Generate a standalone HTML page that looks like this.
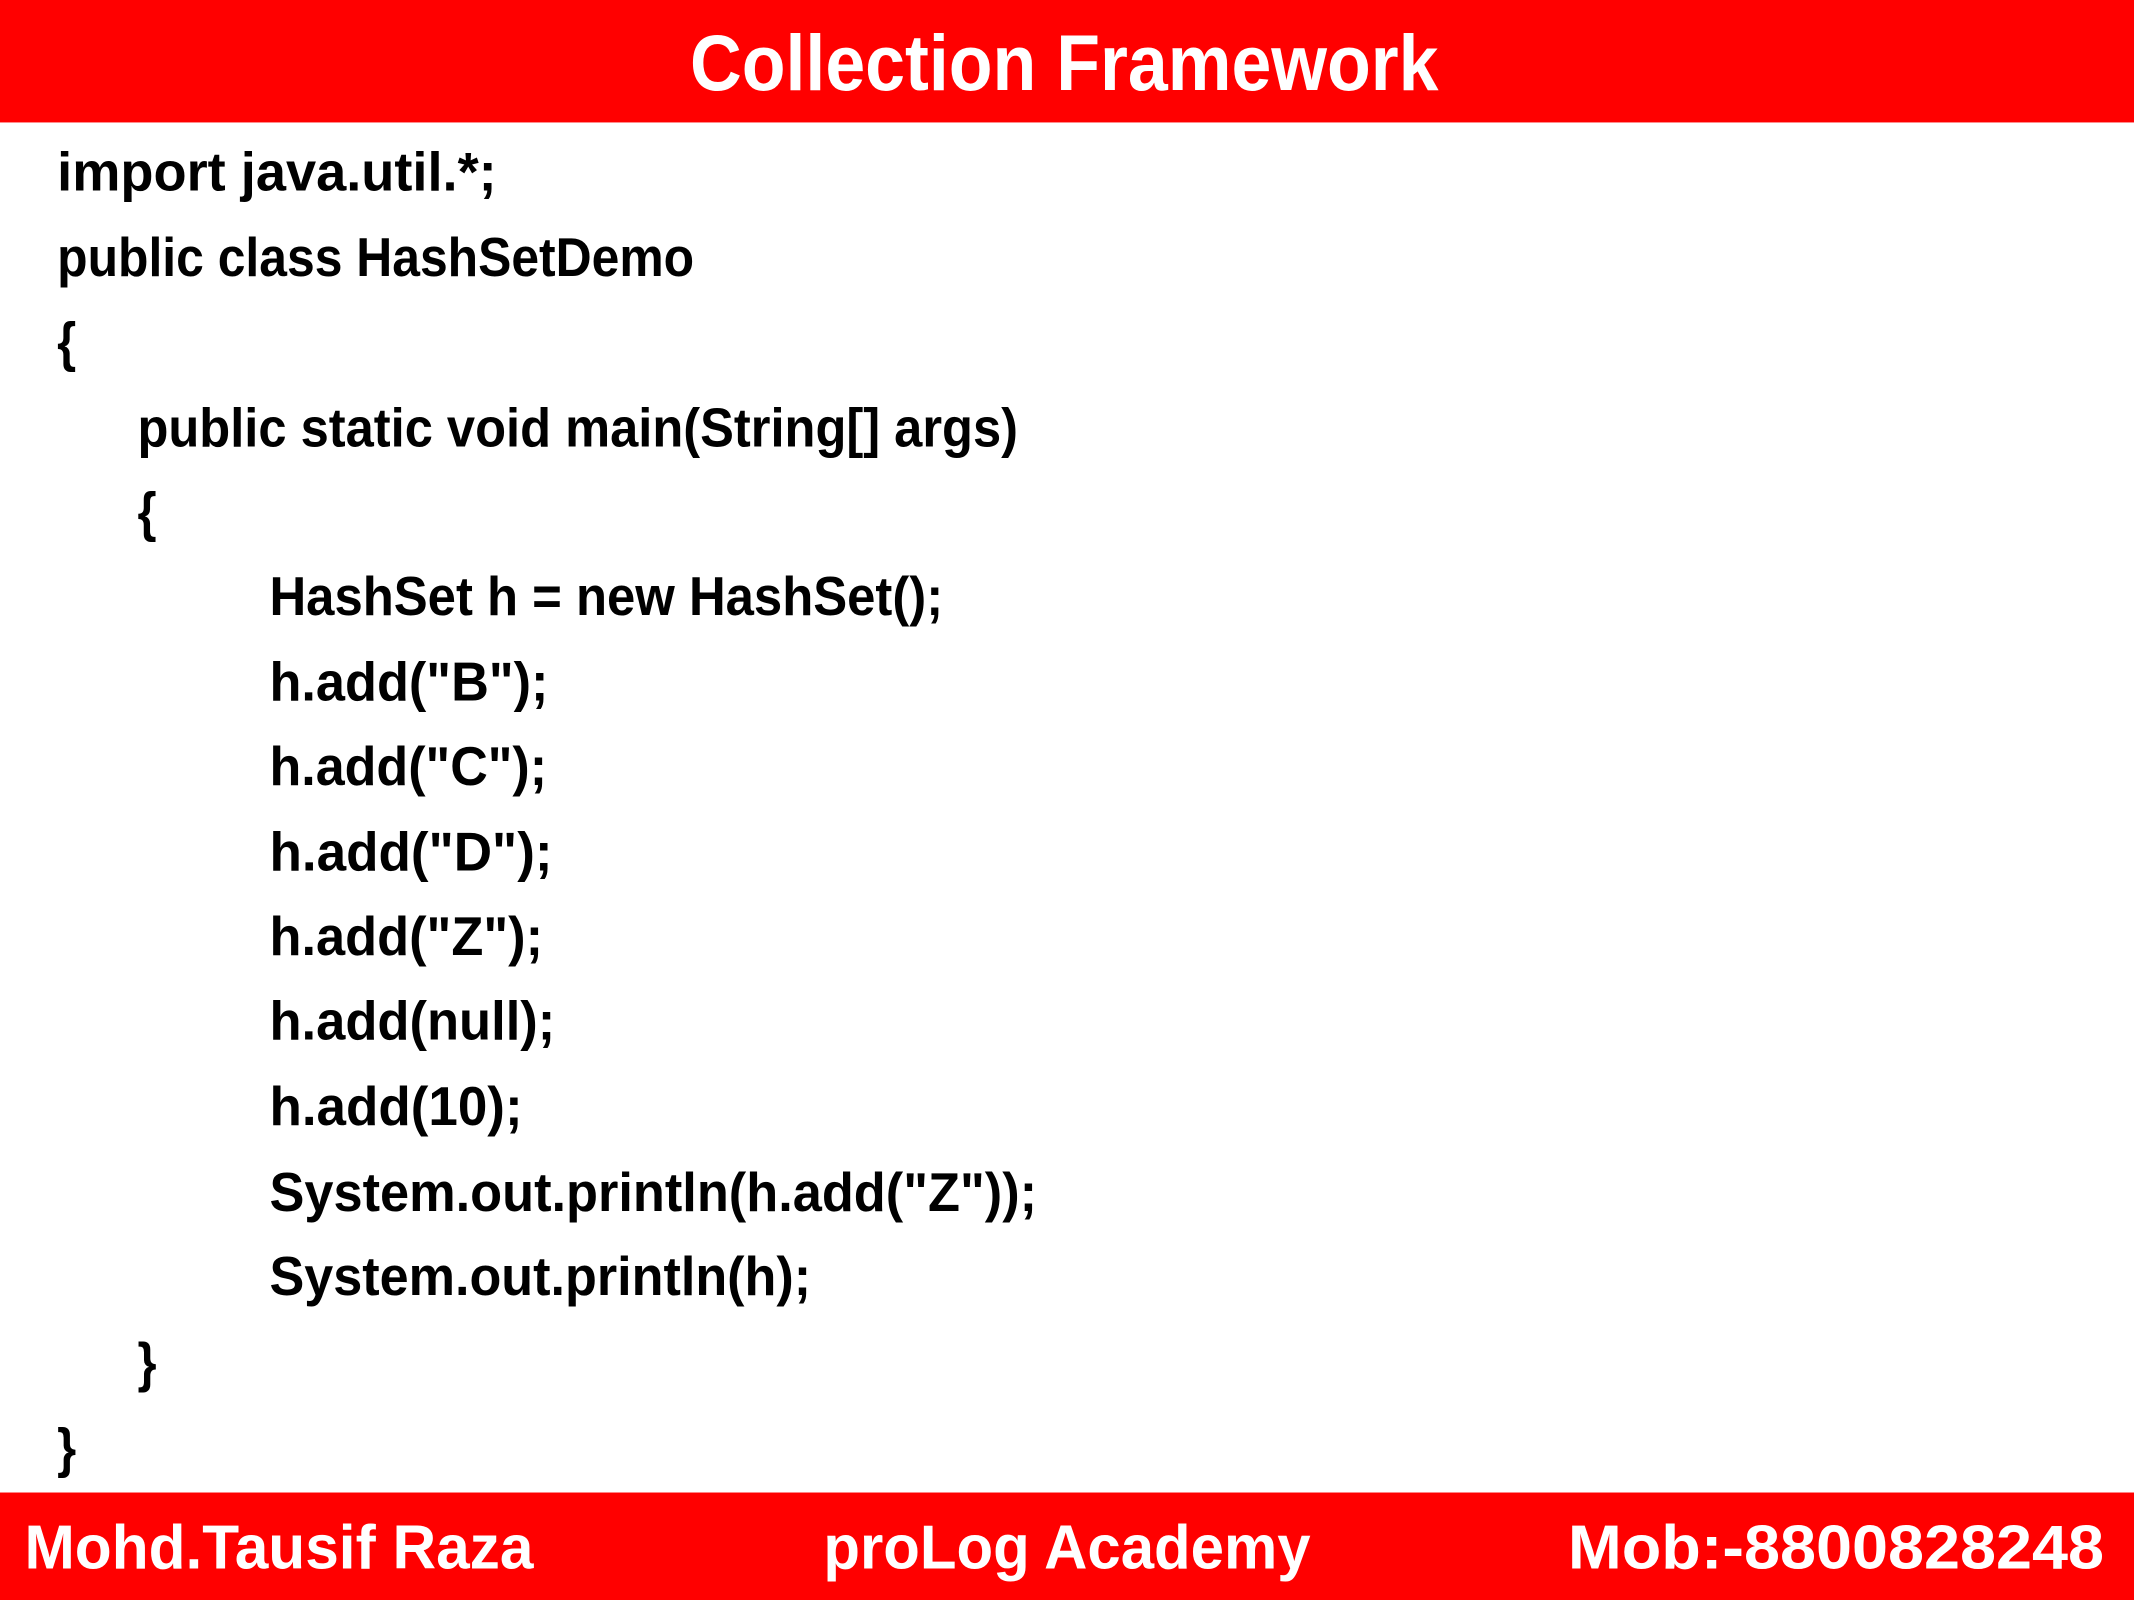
<!DOCTYPE html>
<html><head><meta charset="utf-8"><style>
html,body{margin:0;padding:0;background:#fff;}
svg{display:block;}
text{font-family:"Liberation Sans",sans-serif;font-weight:bold;}
</style></head><body>
<svg width="2134" height="1600" viewBox="0 0 1568 1176" preserveAspectRatio="none" xmlns="http://www.w3.org/2000/svg">
<rect x="0" y="0" width="1568" height="1176" fill="#fff"/>
<rect x="0" y="0" width="1568" height="90" fill="#ff0000"/>
<text x="507" y="66" font-size="58" fill="#fff" textLength="550" lengthAdjust="spacingAndGlyphs">Collection Framework</text>
<g font-size="40" fill="#000" lengthAdjust="spacingAndGlyphs">
<text x="42" y="140" textLength="323" lengthAdjust="spacingAndGlyphs">import java.util.*;</text>
<text x="42" y="203" textLength="468" lengthAdjust="spacingAndGlyphs">public class HashSetDemo</text>
<text x="42" y="265" textLength="14" lengthAdjust="spacingAndGlyphs">{</text>
<text x="101" y="328" textLength="647" lengthAdjust="spacingAndGlyphs">public static void main(String[] args)</text>
<text x="101" y="390" textLength="14" lengthAdjust="spacingAndGlyphs">{</text>
<text x="198" y="452" textLength="495" lengthAdjust="spacingAndGlyphs">HashSet h = new HashSet();</text>
<text x="198" y="515" textLength="205" lengthAdjust="spacingAndGlyphs">h.add("B");</text>
<text x="198" y="577" textLength="204" lengthAdjust="spacingAndGlyphs">h.add("C");</text>
<text x="198" y="640" textLength="208" lengthAdjust="spacingAndGlyphs">h.add("D");</text>
<text x="198" y="702" textLength="201" lengthAdjust="spacingAndGlyphs">h.add("Z");</text>
<text x="198" y="764" textLength="210" lengthAdjust="spacingAndGlyphs">h.add(null);</text>
<text x="198" y="827" textLength="186" lengthAdjust="spacingAndGlyphs">h.add(10);</text>
<text x="198" y="890" textLength="564" lengthAdjust="spacingAndGlyphs">System.out.println(h.add("Z"));</text>
<text x="198" y="952" textLength="398" lengthAdjust="spacingAndGlyphs">System.out.println(h);</text>
<text x="101" y="1015" textLength="14" lengthAdjust="spacingAndGlyphs">}</text>
<text x="42" y="1078" textLength="14" lengthAdjust="spacingAndGlyphs">}</text>
</g>
<rect x="0" y="1097" width="1568" height="79" fill="#ff0000"/>
<g font-size="46" fill="#fff">
<text x="18" y="1153" textLength="374" lengthAdjust="spacingAndGlyphs">Mohd.Tausif Raza</text>
<text x="605" y="1153" textLength="358" lengthAdjust="spacingAndGlyphs">proLog Academy</text>
<text x="1152" y="1153" textLength="394" lengthAdjust="spacingAndGlyphs">Mob:-8800828248</text>
</g>
</svg>
</body></html>
